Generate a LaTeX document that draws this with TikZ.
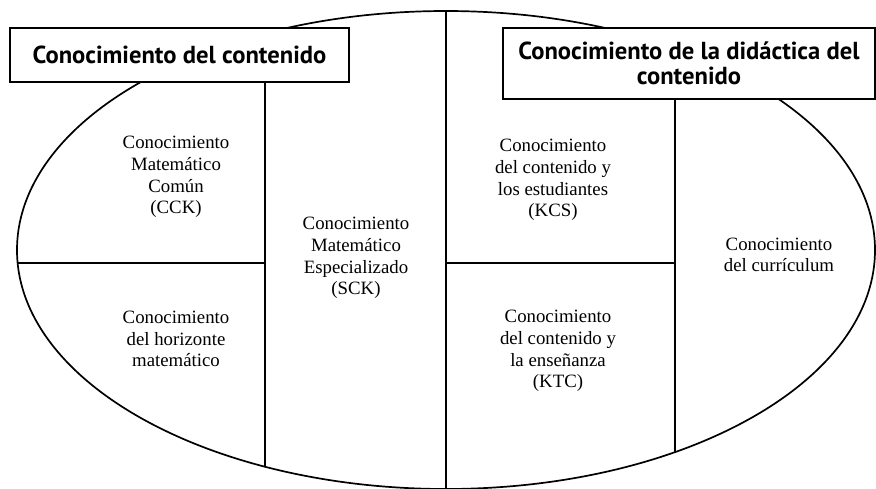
\documentclass[tikz,border=0pt]{standalone}
\usepackage{fontspec}
\setmainfont{Liberation Serif}
\newfontfamily\boxfont{PT Sans}
\begin{document}
\begin{tikzpicture}[x=1pt,y=-1pt,
  outline/.style={line width=1.7pt,black},
  titlebox/.style={draw,line width=1.7pt,fill=white,inner sep=0pt},
  titletext/.style={font=\boxfont\bfseries\fontsize{24.6}{24.5}\selectfont,align=center},
  bodytext/.style={font=\fontsize{18.8}{21.7}\selectfont,align=center}]
\useasboundingbox (0,0) rectangle (876,488);
\path[fill=white] (0,0) rectangle (876,488);
% ellipse
\coordinate (Ec) at (446,250);
\draw[outline] (Ec) ellipse [x radius=429, y radius=239];
% named coordinates
\coordinate (midtop) at (446,11);
\coordinate (midbot) at (446,489);
\coordinate (lvtop) at (265,82);
\coordinate (lvbot) at (265,466.7);
\coordinate (lhl) at (17.6,263);
\coordinate (lhr) at (265,263);
\coordinate (rhl) at (446,263);
\coordinate (rhr) at (675,263);
\coordinate (rvtop) at (675,99);
\coordinate (rvbot) at (675,452);
\draw[outline] (midtop) -- (midbot);
\draw[outline] (lvtop) -- (lvbot);
\draw[outline] (lhl) -- (lhr);
\draw[outline] (rhl) -- (rhr);
\draw[outline] (rvtop) -- (rvbot);
% title boxes
\draw[titlebox] (10,28) rectangle (349,82);
\node[titletext] (t1) at (179.5,55) {Conocimiento del contenido};
\draw[titlebox] (503,28) rectangle (875,99);
\node[titletext] (t2) at (689,63.5) {Conocimiento de la didáctica del\\contenido};
% body texts
\node[bodytext] (cck) at (176,177) {Conocimiento\\Matemático\\Común\\(CCK)};
\node[bodytext] (hor) at (176,339) {Conocimiento\\del horizonte\\matemático};
\node[bodytext] (sck) at (356,258) {Conocimiento\\Matemático\\Especializado\\(SCK)};
\node[bodytext] (kcs) at (553,180) {Conocimiento\\del contenido y\\los estudiantes\\(KCS)};
\node[bodytext] (ktc) at (558,351) {Conocimiento\\del contenido y\\la enseñanza\\(KTC)};
\node[bodytext] (cur) at (779,255) {Conocimiento\\del currículum};
\end{tikzpicture}
\end{document}
